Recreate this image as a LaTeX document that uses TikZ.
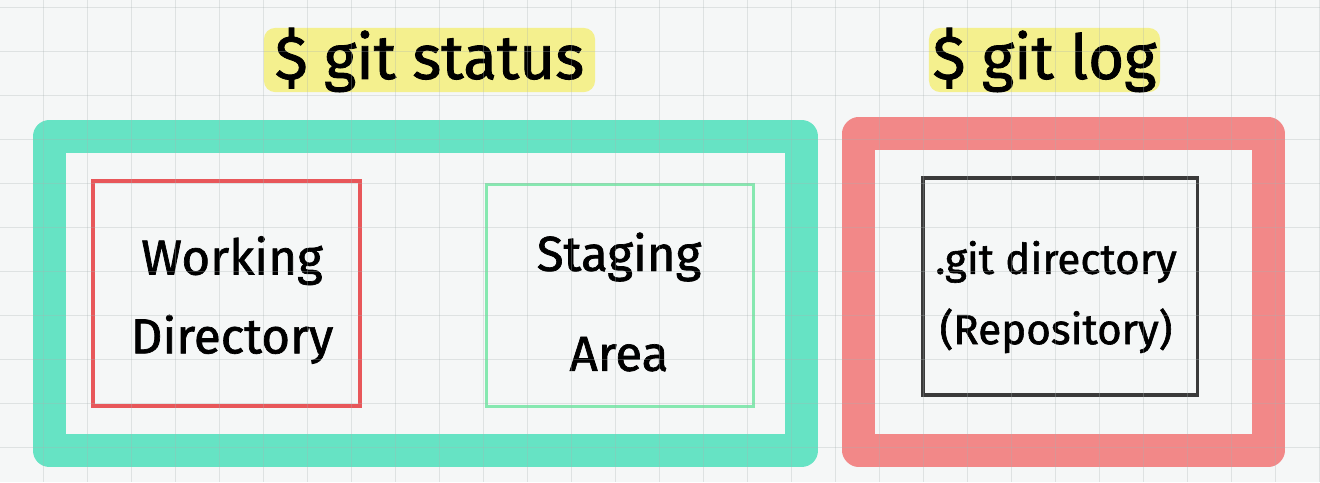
\documentclass[tikz,border=0pt]{standalone}
\usepackage{fontspec}
\setmainfont{Fira Sans}[BoldFont=Fira Sans, BoldFeatures={FakeBold=1.4}]
\usepackage{tikz}
\usetikzlibrary{positioning,calc}

\definecolor{paper}{HTML}{F5F7F7}
\definecolor{gridgrey}{HTML}{A9B2B2}
\definecolor{statusgreen}{HTML}{66E3C4}
\definecolor{logred}{HTML}{F28888}
\definecolor{workred}{HTML}{E8575A}
\definecolor{stagegreen}{HTML}{86E8B0}
\definecolor{repoink}{HTML}{3A3A3A}
\definecolor{marker}{HTML}{F4F08E}

\tikzset{
  frame/.style = {draw, line width=0.825cm, line join=round, inner sep=0pt},
  box/.style = {draw, line width=2.2pt, inner sep=0pt},
  words/.style = {inner sep=0pt, align=center, font=\bfseries\fontsize{35}{56}\selectfont},
  tag/.style = {fill=marker, rounded corners=0.28cm, inner sep=0pt,
                minimum height=1.6cm, font=\bfseries\fontsize{44}{50}\selectfont},
  gridline/.style = {gridgrey, line width=0.8pt, opacity=0.3}
}

\begin{document}
\begin{tikzpicture}[x = 0.025cm, y = -0.025cm]
\fill[paper] (0,0) rectangle (1320,482);
\useasboundingbox (0,0) rectangle (1320,482);

% commands
\node[tag, minimum width=8.275cm] (statuscmd) at (429.5, 60) {\$ git status};
\node[tag, minimum width=5.775cm] (logcmd) at (1044.5, 60) {\$ git log};

% big frames
\node[frame, draw=statusgreen, minimum width=18.8cm, minimum height=7.85cm] (status) at (425.5, 293.5) {};
\node[frame, draw=logred, minimum width=10.225cm, minimum height=7.9cm] (log) at (1063.5, 292) {};

% areas
\node[box, draw=workred, minimum width=6.675cm, minimum height=5.625cm] (work) at (226.5, 293.5) {};
\node[box, draw=stagegreen, minimum width=6.675cm, minimum height=5.55cm] (stage) at (620.3, 295.8) {};
\node[box, draw=repoink, minimum width=6.85cm, minimum height=5.425cm] (repo) at (1060, 286.5) {};

\node[words] (worktext) at (232, 300) {Working\\Directory};
\node[words, font=\bfseries\fontsize{35}{71}\selectfont] (stagetext) at (619, 302) {Staging\\Area};
\node[words, font=\bfseries\fontsize{30}{50}\selectfont] (repotext) at (1056, 297) {.git directory\\(Repository)};

% paper grid
\foreach \i in {0,...,29}
  \draw[gridline] (43.3+44*\i, 0) -- (43.3+44*\i, 482);
\foreach \j in {0,...,10}
  \draw[gridline] (0, 7.7+44*\j) -- (1320, 7.7+44*\j);

\end{tikzpicture}
\end{document}
